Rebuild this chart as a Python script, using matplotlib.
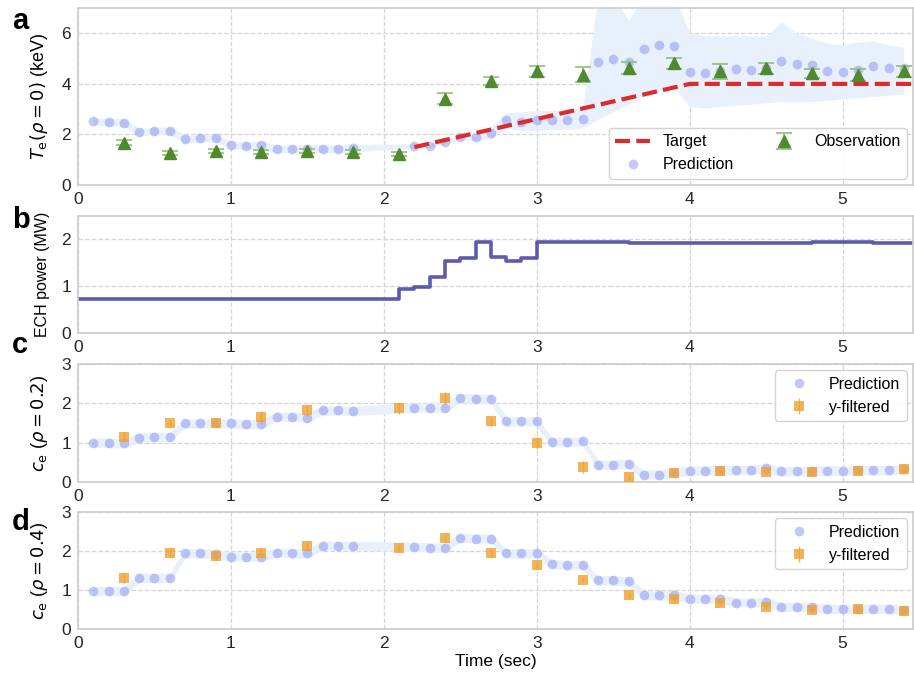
import numpy as np
import matplotlib
matplotlib.use("Agg")
import matplotlib.pyplot as plt

plt.rcParams['font.family'] = ['Liberation Sans', 'DejaVu Sans']
plt.rcParams['axes.edgecolor'] = '#cccccc'
plt.rcParams['axes.linewidth'] = 1.2
plt.rcParams['xtick.color'] = '#262626'
plt.rcParams['ytick.color'] = '#262626'
plt.rcParams['xtick.major.size'] = 0
plt.rcParams['ytick.major.size'] = 0
plt.rcParams['xtick.labelsize'] = 12.5
plt.rcParams['ytick.labelsize'] = 12.5

# ---- data ----
t_pred = [0.1, 0.2, 0.3, 0.4, 0.5, 0.6, 0.7, 0.8, 0.9, 1.0, 1.1, 1.2, 1.3, 1.4, 1.5, 1.6, 1.7, 1.8,
          2.2, 2.3, 2.4, 2.5, 2.6, 2.7, 2.8, 2.9, 3.0, 3.1, 3.2, 3.3, 3.4, 3.5, 3.6, 3.7, 3.8, 3.9,
          4.0, 4.1, 4.2, 4.3, 4.4, 4.5, 4.6, 4.7, 4.8, 4.9, 5.0, 5.1, 5.2, 5.3, 5.4]
t_obs = [0.3, 0.6, 0.9, 1.2, 1.5, 1.8, 2.1, 2.4, 2.7, 3.0, 3.3, 3.6, 3.9, 4.2, 4.5, 4.8, 5.1, 5.4]
t_filt = [0.3, 0.6, 0.9, 1.2, 1.5, 2.1, 2.4, 2.7, 3.0, 3.3, 3.6, 3.9, 4.2, 4.5, 4.8, 5.1, 5.4]

# panel a: Te(rho=0)
te_pred = [2.53, 2.48, 2.47, 2.10, 2.13, 2.15, 1.82, 1.85, 1.85, 1.59, 1.56, 1.57, 1.44, 1.44, 1.44, 1.44, 1.44, 1.46,
           1.54, 1.55, 1.71, 1.90, 1.90, 2.07, 2.56, 2.49, 2.56, 2.57, 2.57, 2.61, 4.86, 5.00, 4.86, 5.39, 5.55, 5.51,
           4.48, 4.42, 4.51, 4.58, 4.55, 4.63, 4.92, 4.78, 4.74, 4.50, 4.48, 4.53, 4.72, 4.63, 4.63]
te_upper = [2.68, 2.63, 2.62, 2.25, 2.28, 2.30, 1.97, 2.00, 2.00, 1.74, 1.71, 1.72, 1.59, 1.59, 1.59, 1.59, 1.59, 1.61,
            1.62, 1.63, 1.80, 2.00, 2.05, 2.30, 2.85, 2.90, 2.95, 2.95, 3.00, 3.05, 7.5, 7.5, 6.5, 7.5, 7.5, 7.5,
            6.0, 5.9, 5.9, 5.9, 5.9, 5.9, 6.45, 6.0, 5.8, 5.6, 5.55, 5.65, 5.7, 5.55, 5.45]
te_lower = [2.38, 2.33, 2.32, 1.95, 1.98, 2.00, 1.67, 1.70, 1.70, 1.44, 1.41, 1.42, 1.29, 1.29, 1.29, 1.29, 1.29, 1.31,
            1.46, 1.47, 1.62, 1.80, 1.75, 1.85, 2.25, 2.15, 2.15, 2.20, 2.20, 2.25, 2.60, 2.90, 3.20, 3.50, 3.70, 3.85,
            3.10, 3.05, 3.10, 3.15, 3.20, 3.25, 3.30, 3.30, 3.30, 3.35, 3.40, 3.45, 3.50, 3.55, 3.60]
te_obs = [1.68, 1.27, 1.36, 1.30, 1.36, 1.29, 1.22, 3.42, 4.12, 4.50, 4.36, 4.62, 4.82, 4.49, 4.62, 4.42, 4.36, 4.49]
te_obs_err = [0.10, 0.08, 0.08, 0.08, 0.08, 0.08, 0.08, 0.21, 0.17, 0.22, 0.29, 0.24, 0.22, 0.30, 0.22, 0.17, 0.23, 0.21]
t_target = [2.2, 4.0, 5.5]
te_target = [1.5, 4.0, 4.0]

# panel b: ECH power
t_ech = [0.0, 2.1, 2.2, 2.3, 2.4, 2.5, 2.6, 2.7, 2.8, 2.9, 3.0, 3.6, 4.2, 4.8, 5.2, 5.5]
p_ech = [0.72, 0.94, 0.98, 1.19, 1.53, 1.60, 1.95, 1.62, 1.54, 1.60, 1.94, 1.93, 1.93, 1.94, 1.93, 1.93]

# panel c: ce(rho=0.2)
c2_pred = [1.00, 1.00, 0.98, 1.13, 1.15, 1.15, 1.49, 1.49, 1.49, 1.49, 1.47, 1.47, 1.66, 1.66, 1.64, 1.82, 1.82, 1.81,
           1.89, 1.89, 1.89, 2.13, 2.12, 2.11, 1.54, 1.54, 1.54, 1.01, 1.01, 1.04, 0.44, 0.44, 0.46, 0.19, 0.19, 0.24,
           0.29, 0.29, 0.30, 0.30, 0.30, 0.35, 0.27, 0.27, 0.28, 0.29, 0.29, 0.30, 0.30, 0.30, 0.32]
c2_filt = [1.14, 1.49, 1.49, 1.66, 1.82, 1.89, 2.13, 1.54, 1.00, 0.39, 0.12, 0.24, 0.29, 0.25, 0.26, 0.29, 0.32]
c2_err = [0.12, 0.10, 0.10, 0.15, 0.15, 0.15, 0.15, 0.12, 0.15, 0.15, 0.10, 0.06, 0.06, 0.06, 0.06, 0.06, 0.06]

# panel d: ce(rho=0.4)
c4_pred = [0.97, 0.97, 0.97, 1.31, 1.31, 1.31, 1.94, 1.94, 1.92, 1.86, 1.86, 1.86, 1.96, 1.94, 1.94, 2.14, 2.13, 2.13,
           2.11, 2.09, 2.09, 2.34, 2.32, 2.32, 1.94, 1.94, 1.94, 1.67, 1.64, 1.64, 1.25, 1.25, 1.22, 0.87, 0.86, 0.87,
           0.78, 0.78, 0.78, 0.68, 0.68, 0.70, 0.57, 0.57, 0.57, 0.52, 0.52, 0.52, 0.52, 0.52, 0.48]
c4_filt = [1.31, 1.94, 1.88, 1.96, 2.14, 2.09, 2.34, 1.94, 1.64, 1.25, 0.88, 0.76, 0.67, 0.56, 0.49, 0.52, 0.47]
c4_err = [0.12, 0.10, 0.10, 0.10, 0.12, 0.10, 0.10, 0.08, 0.10, 0.08, 0.08, 0.08, 0.08, 0.06, 0.06, 0.06, 0.06]
band_c = 0.12

pred_col = '#7b86f2'
band_col = '#e8f1fb'
obs_col = '#4f8a2e'
obs_ecol = '#8fbf7a'
filt_col = '#f0a030'
target_col = '#dd2a2a'
ech_col = '#4a4aa6'

fig = plt.figure(figsize=(9.14, 6.75), dpi=100)
left, width = 0.0853, 0.9136
ax_a = fig.add_axes([left, 0.7259, width, 0.2622])
ax_b = fig.add_axes([left, 0.5067, width, 0.1733])
ax_c = fig.add_axes([left, 0.2859, width, 0.1748])
ax_d = fig.add_axes([left, 0.0681, width, 0.1733])

for ax in (ax_a, ax_b, ax_c, ax_d):
    ax.set_xlim(0, 5.46)
    ax.set_xticks([0, 1, 2, 3, 4, 5])
    ax.grid(True, linestyle='--', color='#d5d5d5', linewidth=0.9)
    ax.set_axisbelow(True)
    ax.tick_params(pad=5)

# a
ax_a.fill_between(t_pred, te_lower, te_upper, color=band_col, lw=0)
ax_a.plot(t_target, te_target, '--', color=target_col, lw=3, dashes=(3.6, 1.5), label='Target', zorder=3)
ax_a.plot(t_pred, te_pred, 'o', color=pred_col, alpha=0.45, ms=7, mew=0, label='Prediction', zorder=2)
ax_a.errorbar(t_obs, te_obs, yerr=te_obs_err, fmt='^', color=obs_col, ecolor=obs_ecol, ms=8.5,
              capsize=6, elinewidth=1.2, capthick=1.2, label='Observation', zorder=4)
ax_a.set_ylim(0, 7)
ax_a.set_yticks([0, 2, 4, 6])
ax_a.set_ylabel(r'$T_{\rm e}(\rho = 0)$ (keV)', fontsize=13)
ax_a.legend(loc='lower right', ncol=2, fontsize=11.5, columnspacing=2.0, borderaxespad=0.4,
            handlelength=2.2, framealpha=0.9, edgecolor='#d0d0d0')

# b
ax_b.step(t_ech, p_ech, where='post', color=ech_col, lw=2.6, alpha=0.9)
ax_b.set_ylim(0, 2.5)
ax_b.set_yticks([0, 1, 2])
ax_b.set_ylabel('ECH power (MW)', fontsize=11.5)

# c, d
for ax, pred, filt, err, lab in ((ax_c, c2_pred, c2_filt, c2_err, r'$c_{\rm e}$ ($\rho = 0.2$)'),
                                 (ax_d, c4_pred, c4_filt, c4_err, r'$c_{\rm e}$ ($\rho = 0.4$)')):
    p = np.array(pred)
    ax.fill_between(t_pred, p - band_c, p + band_c, color=band_col, lw=0)
    ax.plot(t_pred, pred, 'o', color=pred_col, alpha=0.45, ms=7, mew=0, label='Prediction', zorder=2)
    ax.errorbar(t_filt, filt, yerr=err, fmt='s', color=filt_col, alpha=0.8, ms=7.5, mew=0,
                capsize=3, elinewidth=1, capthick=1, label='y-filtered', zorder=3)
    ax.set_ylim(0, 3)
    ax.set_yticks([0, 1, 2, 3])
    ax.set_ylabel(lab, fontsize=13)
    ax.legend(loc='upper right', fontsize=11.5, borderaxespad=0.4, handlelength=2.2,
              framealpha=0.9, edgecolor='#d0d0d0')

ax_d.set_xlabel('Time (sec)', fontsize=12.5, labelpad=2)

for ax in (ax_a, ax_b, ax_c, ax_d):
    ax.yaxis.set_label_coords(-0.033, 0.5)

for lab, y in (('a', 0.99), ('b', 0.695), ('c', 0.51), ('d', 0.247)):
    fig.text(0.013, y, lab, fontsize=21, fontweight='bold', va='top', ha='left')

fig.savefig('out.png', dpi=100)
